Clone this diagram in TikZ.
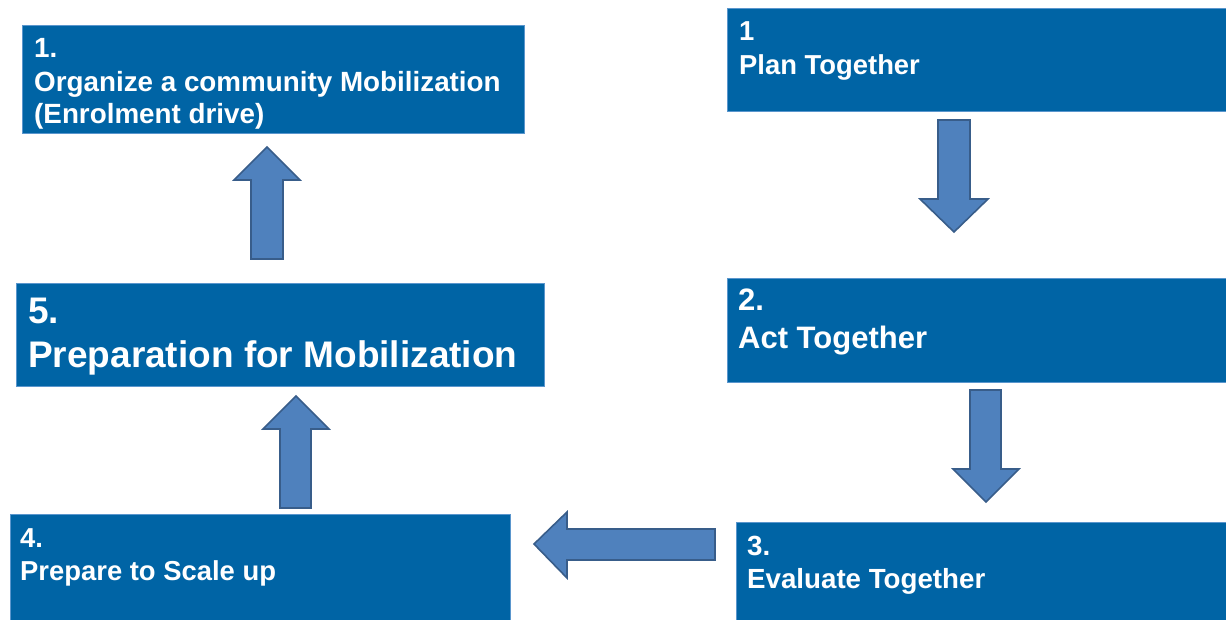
\documentclass[tikz,border=0pt]{standalone}
\usepackage{fontspec}
\setmainfont{Liberation Sans}
\definecolor{boxblue}{RGB}{0,100,165}
\definecolor{boxedge}{RGB}{90,150,205}
\definecolor{arrowfill}{RGB}{79,129,189}
\definecolor{arrowedge}{RGB}{56,93,138}
\begin{document}
\begin{tikzpicture}[x=1pt,y=-1pt,
  stepbox/.style={fill=boxblue,draw=boxedge,line width=0.8pt},
  boxtext/.style={anchor=base west,inner sep=0pt,text=white,font=\bfseries\fontsize{#1}{#1}\selectfont},
  boxtext/.default=27.8,
  blockarrow/.style={fill=arrowfill,draw=arrowedge,line width=1.6pt,line join=miter}]
\useasboundingbox (0,0) rectangle (1226,619);

% step boxes
\path[stepbox] (22,25) rectangle (524,133) coordinate (b1se);
\coordinate (b1nw) at (22,25);
\path[stepbox] (727,8) rectangle (1227,111);
\path[stepbox] (16,283) rectangle (544,386);
\path[stepbox] (727,278) rectangle (1227,382);
\path[stepbox] (10,514) rectangle (510,620);
\path[stepbox] (736,522) rectangle (1227,620);

% box texts
\node[boxtext] (orgnum) at (34,57) {1.};
\node[boxtext] (orgline) at (34,91) {Organize a community Mobilization};
\node[boxtext] (orgsub) at (34,123) {(Enrolment drive)};

\node[boxtext=27.4] (plannum) at (739,40) {1};
\node[boxtext=27.4] (planline) at (739,74) {Plan Together};

\node[boxtext=31] (actnum) at (738,310) {2.};
\node[boxtext=31] (actline) at (738,348) {Act Together};

\node[boxtext=27.7] (evalnum) at (747,555) {3.};
\node[boxtext=27.7] (evalline) at (747,588) {Evaluate Together};

\node[boxtext=37] (prepnum) at (28,323) {5.};
\node[boxtext=37] (prepline) at (28,367) {Preparation for Mobilization};

\node[boxtext=27.4] (scalenum) at (20,547) {4.};
\node[boxtext=27.4] (scaleline) at (20,580) {Prepare to Scale up};

% block arrows between the steps
% 5 -> 1 (up)
\draw[blockarrow] (251,259) -- (251,180) -- (234,180) -- (267,147) -- (300,180)
  -- (283,180) -- (283,259) -- cycle;
% Plan -> Act (down)
\draw[blockarrow] (938,120) -- (970,120) -- (970,199) -- (988,199) -- (954,232)
  -- (920,199) -- (938,199) -- cycle;
% Act -> Evaluate (down)
\draw[blockarrow] (970,390) -- (1001,390) -- (1001,469) -- (1019,469) -- (986,502)
  -- (953,469) -- (970,469) -- cycle;
% Evaluate -> 4 (left)
\draw[blockarrow] (715,529) -- (567,529) -- (567,512) -- (534,544) -- (567,578)
  -- (567,560) -- (715,560) -- cycle;
% 4 -> 5 (up)
\draw[blockarrow] (280,508) -- (280,429) -- (263,429) -- (296,396) -- (329,429)
  -- (311,429) -- (311,508) -- cycle;
\end{tikzpicture}
\end{document}
